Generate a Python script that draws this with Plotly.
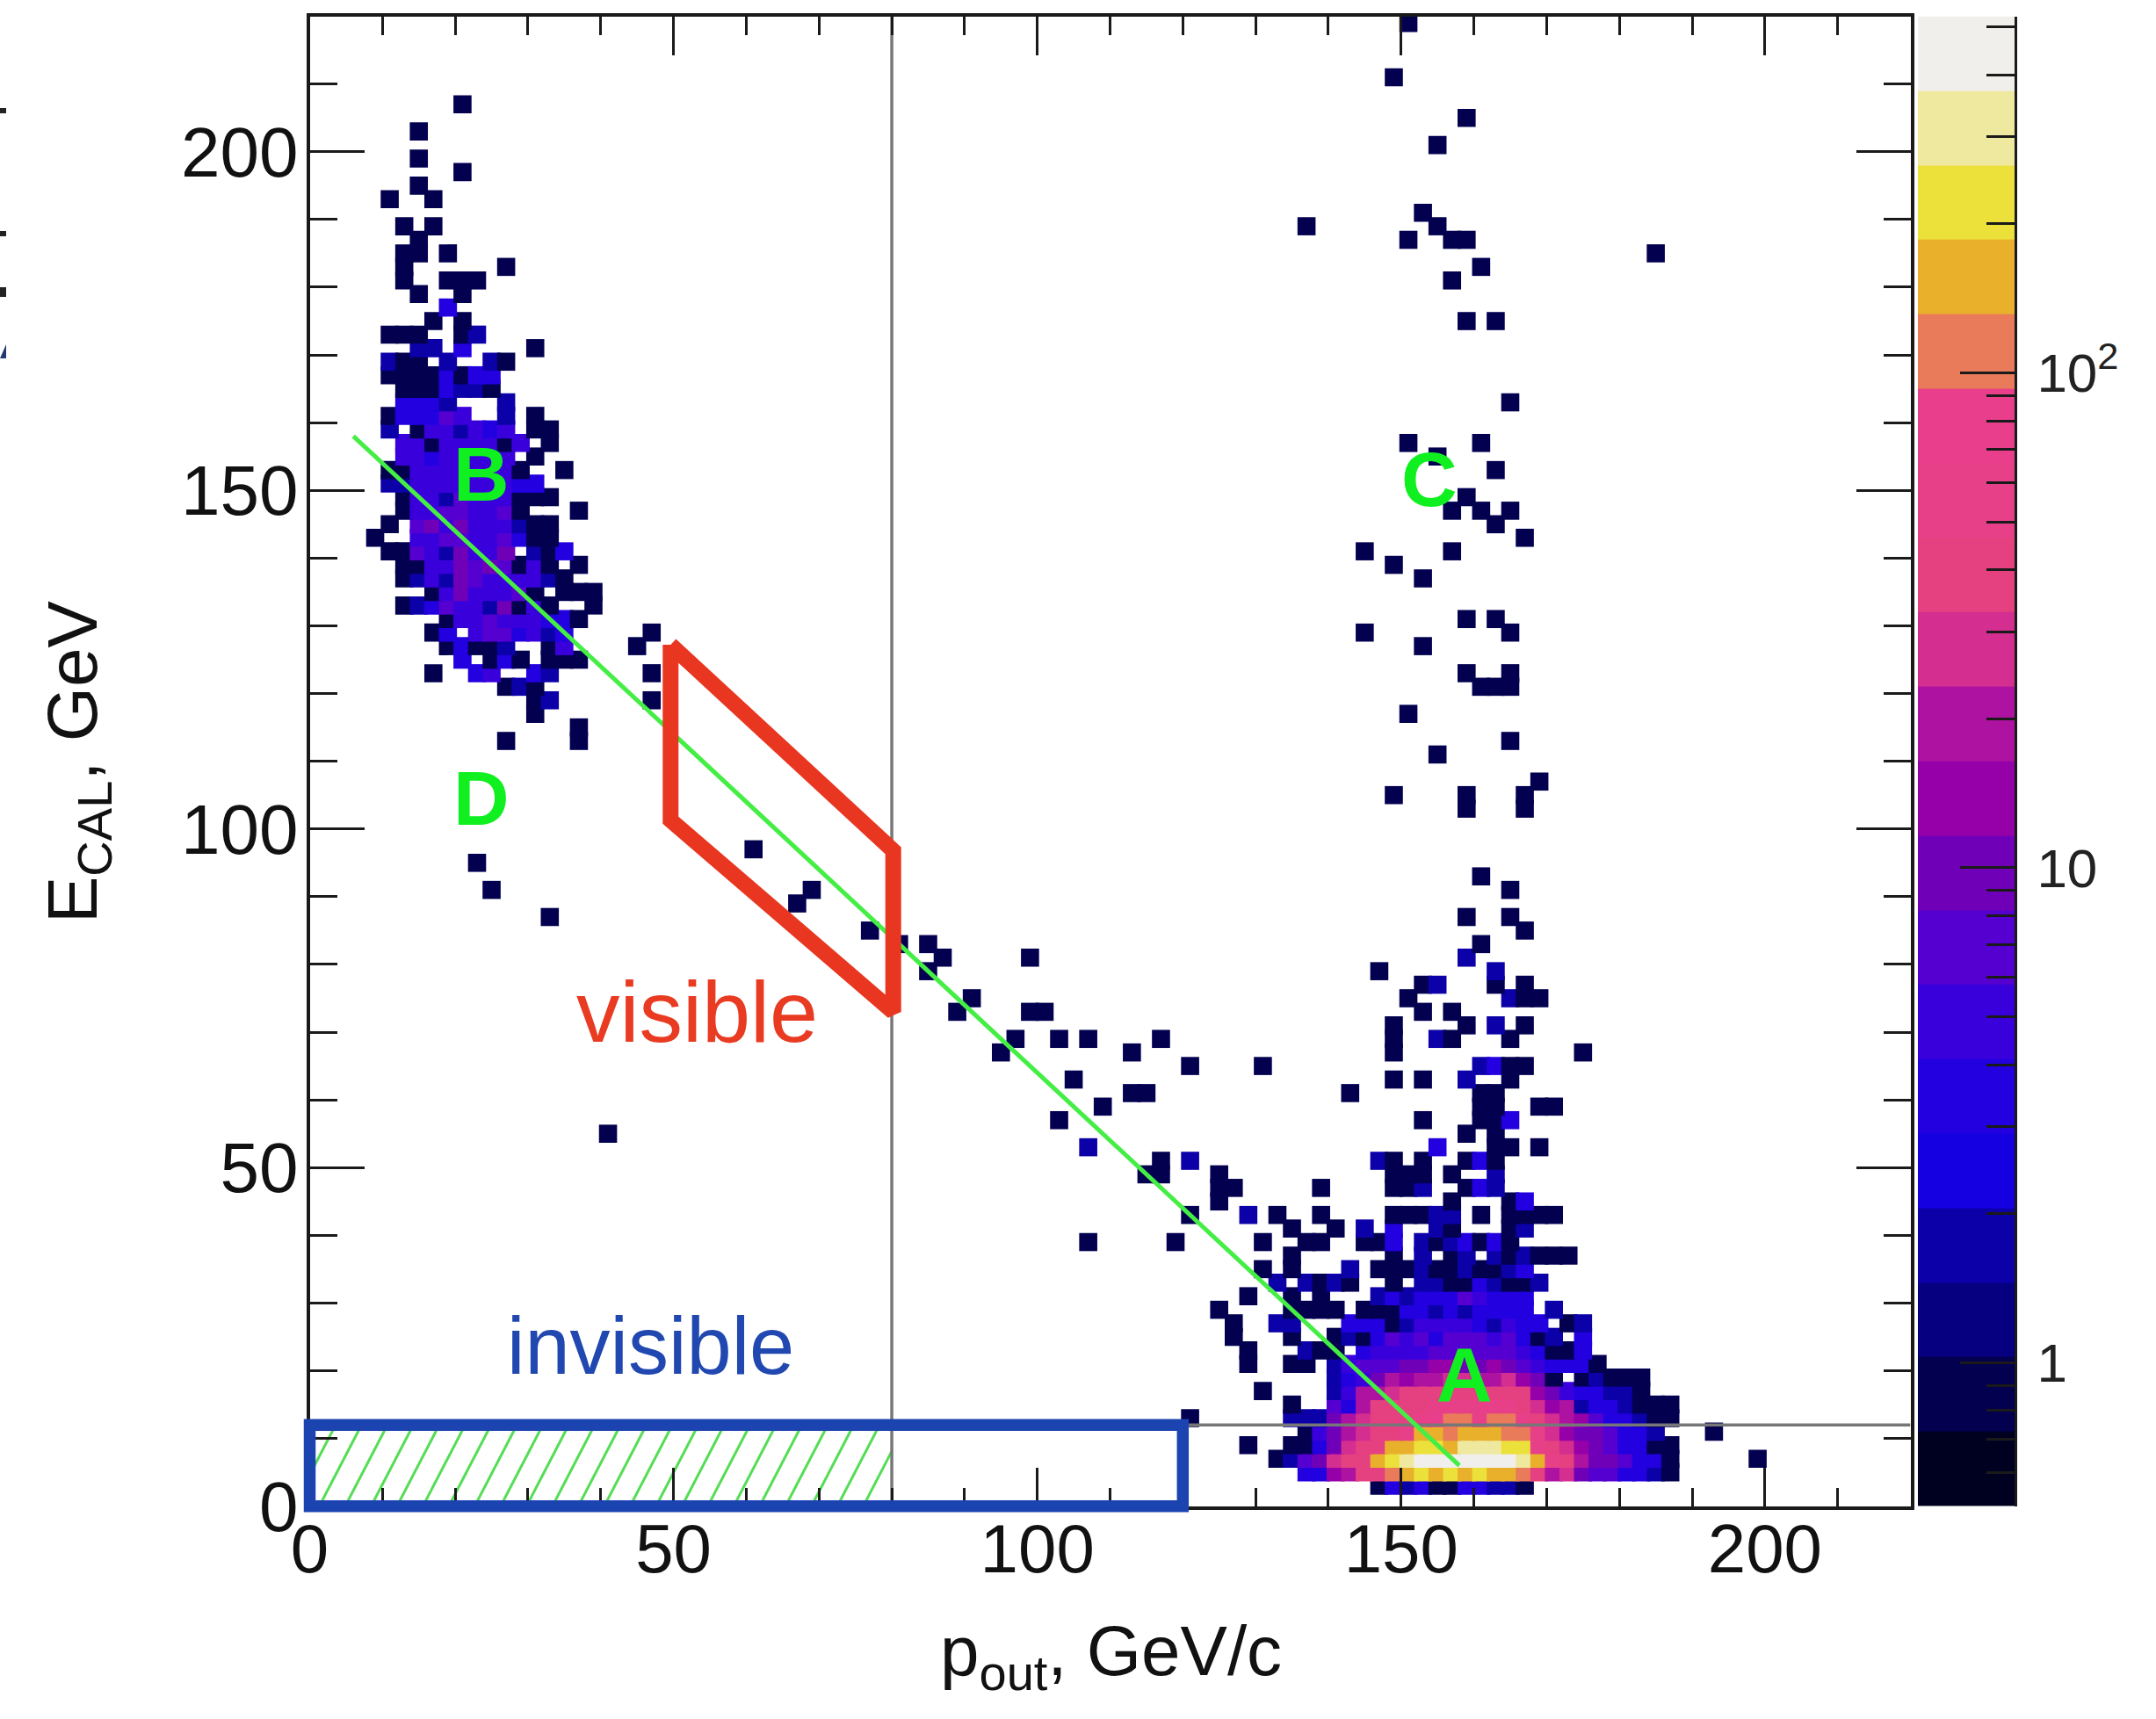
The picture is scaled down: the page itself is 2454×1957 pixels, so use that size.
import numpy as np
import plotly.graph_objects as go

W, H = 2454, 1957
# plot box in page pixels
LEFT, RIGHT, TOP, BOTTOM = 352.5, 2174.5, 18.6, 1714.7
BAR_L, BAR_R = 2183, 2293

# colour code of a cell -> count in the bin
count_for_level = {"a": 1, "b": 2, "c": 3, "d": 5, "e": 7, "f": 10, "g": 14, "h": 20, "i": 28,
                   "j": 40, "k": 55, "l": 78, "m": 110, "n": 157, "o": 220, "p": 310, "q": 440}

# ROOT-like palette, low to high, 20 contours
palette = ["#000020", "#030050", "#060080", "#0C00A8", "#1400E0", "#2200E0", "#3A00DC", "#5500D0",
           "#7000B8", "#9500A8", "#AE12A0", "#D42E90", "#E54080", "#E74088", "#E83E8C", "#E97A5A",
           "#E9B02C", "#ECE03A", "#EFE9A0", "#F0EFEB"]
z_low, z_high = 0.513, 525.0

# E_CAL bin centre -> "p_out bin centre + level"
region_B = {
    207: "21a", 203: "15a", 199: "15a", 197: "21a", 195: "15a", 193: "11a 17a", 189: "13a 17a", 187: "15a",
    185: "13a 15a 19a", 183: "13a 27a", 181: "13a 19a 21a 23a", 179: "15a 21a", 177: "19c", 175: "17a 21a",
    173: "11a 13a 15a 21a 23b", 171: "15b 17b 21c 31a", 169: "11b 13a 15a 19b 25b 27a",
    167: "11a 13a 15a 17a 19c 21a 23c 25c", 165: "13a 15a 17a 19c 21b 23b 25a", 163: "13c 15c 17c 19b 27b",
    161: "11a 13c 15c 17c 19e 21d 27b 31a", 159: "11b 15a 17d 19d 21b 23d 25c 27d 31a 33a",
    157: "13d 15d 17a 19d 21d 23d 25d 27a 29d 33a", 155: "13d 15d 17c 19d 21d 23d 25d 27d 31a",
    153: "11a 13a 15d 17d 19d 21d 23d 25d 27d 29a 35a", 151: "11b 13b 15d 17d 19d 21d 23d 25d 27d 29c 31c",
    149: "13a 15d 17d 19b 21e 23d 25d 27d 29a 31a 33a", 147: "13a 15d 17d 19e 21e 23d 25d 27e 29a 37a",
    145: "11a 15e 17f 19d 21f 23d 25d 27d 29b 31a 33a", 143: "9a 15d 17d 19e 21e 23d 25d 27e 29c 31a 33a",
    141: "11a 13a 15e 17d 19b 21f 23d 25d 27f 31b 33a 35c", 139: "13a 15a 17d 19d 21f 23e 25f 27e 29a 31d 33a 37a",
    137: "13a 15b 17d 19b 21f 23e 25d 27d 29d 31d 33b 35a", 135: "17a 19d 21f 23d 25d 27d 29e 31a 35a 37a 39a",
    133: "13a 15b 17c 19e 21d 23d 25b 27f 29a 31d 33a 39a", 131: "19a 21d 23d 25e 27d 29d 31d 33c 35c 37a",
    129: "17a 19c 23d 25e 27e 29c 31d 33b 35c 47a", 127: "19a 21c 23a 25a 27b 33a 35d 45a",
    125: "21c 25a 27c 29a 33a 35a 37a", 123: "17a 23c 25d 31c 33b 47a", 121: "27a 29b 31a", 119: "31a 33b 47a",
    117: "31a", 115: "37a", 113: "27a 37a",
}
region_mid = {
    97: "61a", 95: "23a", 91: "25a 69a", 89: "67a", 87: "33a", 85: "77a", 83: "81a 85a", 81: "87a 99a", 79: "85a",
    75: "91a", 73: "89a 99a 101a", 69: "97a 103a 107a 117a", 67: "95a 113a", 65: "121a 131a", 63: "105a",
    61: "113a 115a", 59: "109a", 57: "103a", 55: "41a", 53: "107b",
}
region_C = {
    219: "151a", 211: "149a", 205: "159a", 201: "155a", 191: "153a", 189: "137a 155a", 187: "151a 157a 159a",
    185: "185a", 183: "161a", 181: "157a", 175: "159a 163a", 163: "165a", 157: "151a 161a", 155: "155a",
    153: "163a", 149: "159a", 147: "157a 161a 165a", 145: "163a", 143: "167a", 141: "145a 157a", 139: "149a",
    137: "153a", 131: "159a 163a", 129: "145a 165a", 127: "153a", 123: "159a 165a", 121: "161a 163a 165a",
    117: "151a", 113: "165a", 111: "155a", 107: "169a", 105: "149a 159a 167a", 103: "159a 167a", 93: "161a",
    91: "165a", 87: "159a 165a", 85: "167a", 83: "161a", 81: "159b", 79: "147a 163b",
    77: "153a 155b 163a 167a", 75: "151a 165b 167a 169a", 73: "153a 157a", 71: "149a 159a 163b 167a",
    69: "149a 155b 157a 165a", 67: "149a 175a", 65: "161b 163c 165a 167a", 63: "149a 153a 159b 165a",
    61: "143a 161a 163a", 59: "161a 163a 169a 171a", 57: "153a 161a 163a 165c", 55: "159a 163a",
    53: "155c 163a 165a 169a",
}
region_A = {
    51: "117a 121b 147b 149a 153a 159a 161c 163a",
    49: "115a 117a 125a 149a 151a 153a 157a 163b",
    47: "125a 127a 139a 149a 151a 153b 159a 161c 163b",
    45: "125a 157a 165a 167c",
    43: "121a 129b 133a 139a 149a 151a 153a 155b 157b 161a 165a 167a 169a 171a",
    41: "135a 141a 145b 149c 155b 157a 165a 167b",
    39: "107a 119a 131a 137a 139a 145a 147a 149c 153b 155a 157b 159c 161a 163c 165a",
    37: "135a 149a 153b 157a 159b 163b 165a 167b 169a 171a 173a",
    35: "131a 135a 143b 147a 149a 151a 153b 155a 157a 159b 161a 163a 165b 167c",
    33: "133b 137b 139a 141b 143a 149a 153b 155b 157a 159a 161c 163b 165a 167a 169b",
    31: "129a 135a 139a 147b 149c 151b 153c 155c 157c 159e 161d 163c 165c 167c",
    29: "125a 135a 137a 139a 141a 145a 147a 149a 151c 153c 155b 157c 159b 161c 163c 165c 167c 171b",
    27: "127a 133b 135b 143c 145c 147c 149a 151b 153d 155d 157d 159d 161c 163b 165d 167c 169c 173a 175b",
    25: "127a 135a 141a 143b 145a 147c 149e 151d 153e 155c 157e 159e 161e 163d 165e 167c 169a 171b 175c",
    23: "129a 137b 139a 141a 145c 147d 149d 151d 153d 155e 157e 159e 161e 163e 165e 167d 169c 171a 173a 175c",
    21: "129a 135a 137a 141b 143d 145e 147e 149e 151f 153f 155g 157g 159f 161f 163g 165f 167e 169d 171c 173c 175c 177a",
    19: "141b 143c 145d 147f 149h 151g 153h 155h 157i 159i 161h 163h 165i 167g 169f 171a 175a 177b 179a 181a 183a",
    17: "131a 141b 143d 145h 147h 149i 151j 153j 155j 157j 159j 161j 163j 165j 167j 169g 171f 173d 175c 177c 179b 181b 183a",
    15: "135a 141e 143c 145h 147j 149j 151j 153j 155k 157k 159k 161k 163k 165k 167j 169i 171g 173h 175b 177c 179c 181b 183a 185a 187a",
    13: "121a 135b 137b 139b 141f 143h 145i 147j 149j 151j 153k 155l 157m 159m 161k 163m 165m 167k 169j 171i 173h 175g 177e 179c 181c 183b 185a 187a",
    11: "137a 139d 141f 143h 145i 147j 149j 151k 153n 155n 157m 159n 161n 163n 165m 167m 169k 171i 173g 175f 177f 179e 181c 183c 185b 193a",
    9: "129a 135a 137a 139c 141f 143i 145j 147j 149n 151n 153o 155o 157n 159p 161p 163p 165o 167o 169k 171j 173i 175g 177f 179e 181c 183c 185a 187a",
    7: "133a 135b 137e 139f 141i 143j 145j 147n 149o 151p 153q 155q 157q 159q 161q 163q 165q 167p 169n 171k 173j 175h 177f 179f 181e 183c 185c 187a 199a",
    5: "137c 139c 141g 143h 145j 147j 149m 151n 153o 155n 157o 159n 161o 163n 165n 167m 169j 171h 173i 175f 177e 179e 181c 183c 185b 187a",
    3: "147a 149c 151b 153c 155a 157a 159c 161c 163b 165b 167a",
}

# overlays, in data coordinates
green_line_x, green_line_y = [6, 158], [158, 6]
red_x = [49.6, 49.6, 80.2, 80.2, 49.6]
red_y = [127.2, 101.3, 73, 96.8, 127.2]
blue_box = (0, 120, 0, 12)
cut_x, cut_y = 80, 12

cells = {}
for region in (region_B, region_mid, region_C, region_A):
    for row, text in region.items():
        for tok in text.split():
            cells[(row, int(tok[:-1]))] = count_for_level[tok[-1]]
ordered = sorted(cells)
ecal_centres = [k[0] for k in ordered]
pout_centres = [k[1] for k in ordered]
bin_counts = [cells[k] for k in ordered]

lo, hi = np.log10(z_low), np.log10(z_high)
scale = []
for n, c in enumerate(palette):
    scale += [[n / 20, c], [(n + 1) / 20, c]]

fig = go.Figure()
fig.add_trace(go.Scatter(x=pout_centres, y=ecal_centres, mode="markers", showlegend=False, hoverinfo="skip",
                         marker=dict(symbol="square", size=20.6, line=dict(width=0),
                                     color=np.log10(bin_counts), cmin=lo, cmax=hi, colorscale=scale, showscale=False)))

# hatched "invisible" region
hx, hy = [], []
for x0 in np.arange(-5.8, 80, 3.56):
    t0 = max(0, -x0 / 5.8)
    t1 = min(1, (80 - x0) / 5.8)
    hx += [x0 + 5.8 * t0, x0 + 5.8 * t1, None]
    hy += [12 * t0, 12 * t1, None]
fig.add_trace(go.Scatter(x=hx, y=hy, mode="lines", line=dict(color="#55DD55", width=3), showlegend=False, hoverinfo="skip"))

line = lambda x, y, c, w: go.Scatter(x=x, y=y, mode="lines", line=dict(color=c, width=w), showlegend=False, hoverinfo="skip")
fig.add_trace(line([cut_x, cut_x], [0, 220], "#777777", 3.5))
fig.add_trace(line([0, 220], [cut_y, cut_y], "#777777", 3.5))
fig.add_trace(line(green_line_x, green_line_y, "#44EE44", 5))
fig.add_trace(line(red_x, red_y, "#E93620", 18))

# palette strip
edges = np.logspace(lo, hi, 21)
band_values = [[(np.log10(edges[i]) + np.log10(edges[i + 1])) / 2] for i in range(20)]
fig.add_trace(go.Heatmap(x=[0, 1], y=edges, z=band_values, zmin=lo, zmax=hi, colorscale=scale, showscale=False,
                         xaxis="x2", yaxis="y2", hoverinfo="skip"))

FONT = "Liberation Sans"
ax_common = dict(ticks="inside", showgrid=False, zeroline=False, showline=True, linecolor="#1a1a1a", linewidth=4,
                 tickcolor="#1a1a1a", tickwidth=3, mirror="allticks", range=[0, 220], automargin=False)
fig.update_layout(
    width=W, height=H, autosize=False, margin=dict(l=0, r=0, t=0, b=0),
    paper_bgcolor="white", plot_bgcolor="white", showlegend=False,
    xaxis=dict(domain=[LEFT / W, RIGHT / W], dtick=50, ticklen=44, ticklabelstandoff=-22,
               minor=dict(dtick=10, ticks="inside", ticklen=21, tickwidth=3, tickcolor="#1a1a1a", showgrid=False),
               tickfont=dict(family=FONT, size=78, color="#111"), **ax_common),
    yaxis=dict(domain=[1 - BOTTOM / H, 1 - TOP / H], dtick=50, ticklen=62, ticklabelstandoff=-7,
               minor=dict(dtick=10, ticks="inside", ticklen=31, tickwidth=3, tickcolor="#1a1a1a", showgrid=False),
               tickfont=dict(family=FONT, size=80, color="#111"), **ax_common),
    xaxis2=dict(domain=[BAR_L / W, BAR_R / W], range=[0, 1], visible=False, anchor="y2", automargin=False),
    yaxis2=dict(domain=[1 - BOTTOM / H, 1 - TOP / H], type="log", range=[lo, hi], side="right", anchor="x2", automargin=False,
                tickvals=[1, 10, 100], ticktext=["1", "10", "10<sup>2</sup>"], ticks="inside", ticklen=62, tickwidth=3,
                tickcolor="#1a1a1a", showline=True, linecolor="#1a1a1a", linewidth=3, showgrid=False, zeroline=False,
                ticklabelstandoff=10, tickfont=dict(family=FONT, size=62, color="#222"),
                minor=dict(tickvals=[.6, .7, .8, .9, 2, 3, 4, 5, 6, 7, 8, 9, 20, 30, 40, 50, 60, 70, 80, 90, 200, 300, 400, 500],
                           ticks="inside", ticklen=32, tickwidth=3, tickcolor="#1a1a1a", showgrid=False)),
)

# the blue box straddles the axes, so it is placed relative to the page rather than clipped to the plot
to_paper_x = lambda v: (LEFT + (RIGHT - LEFT) * v / 220) / W
to_paper_y = lambda v: 1 - (BOTTOM - (BOTTOM - TOP) * v / 220) / H
fig.add_shape(type="rect", xref="paper", yref="paper", layer="above",
              x0=to_paper_x(blue_box[0]), x1=to_paper_x(blue_box[1]), y0=to_paper_y(blue_box[2]), y1=to_paper_y(blue_box[3]),
              line=dict(color="#1C44B0", width=13.5), fillcolor="rgba(0,0,0,0)")

# scraps of a neighbouring figure at the left crop edge
for y0, y1, c in [(123, 129, "#222"), (263, 269, "#222"), (327, 338, "#222")]:
    fig.add_shape(type="rect", xref="paper", yref="paper", x0=0, x1=7 / W, y0=1 - y1 / H, y1=1 - y0 / H,
                  line=dict(width=0), fillcolor=c)
fig.add_shape(type="path", xref="paper", yref="paper", line=dict(width=0), fillcolor="#22386E",
              path=f"M 0 {1 - 408 / H} L {7 / W} {1 - 408 / H} L {7 / W} {1 - 392 / H} Z")

def label(text, x, y, color, size, bold=False):
    fig.add_annotation(x=x, y=y, xref="x", yref="y", text=f"<b>{text}</b>" if bold else text, showarrow=False,
                       font=dict(family=FONT, size=size, color=color), xanchor="center", yanchor="middle")

for t, x, y in [("A", 158.7, 19.5), ("B", 23.6, 152.4), ("C", 153.9, 151.7), ("D", 23.6, 104.6)]:
    label(t, x, y, "#10F020", 88, True)
label("visible", 53.3, 73, "#E93A22", 99)
label("invisible", 46.8, 23.7, "#2048B0", 92)

fig.add_annotation(x=1264 / W, y=1 - 1885 / H, xref="paper", yref="paper", showarrow=False, text="p<sub>out</sub>, GeV/c",
                   font=dict(family=FONT, size=80, color="#111"), xanchor="center", yanchor="middle")
fig.add_annotation(x=88 / W, y=1 - 868 / H, xref="paper", yref="paper", showarrow=False, text="E<sub>CAL</sub>, GeV", textangle=-90,
                   font=dict(family=FONT, size=80, color="#111"), xanchor="center", yanchor="middle")

fig.write_html("out.html", post_script="document.body.style.margin='0';", config={"displayModeBar": False})
